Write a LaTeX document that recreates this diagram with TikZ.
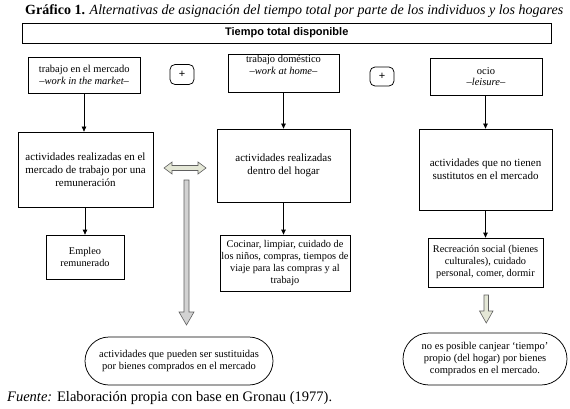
\documentclass[tikz,border=0pt]{standalone}
\usepackage{fontspec}
\setmainfont{Liberation Serif}
\newfontfamily\arialfont{Liberation Sans}
\usetikzlibrary{arrows.meta}
\begin{document}
\begin{tikzpicture}[x=1pt,y=-1pt,
  box/.style={draw=black,line width=0.75pt,align=center,inner sep=1pt,
    font=\fontsize{10.5}{11.5}\selectfont},
  bigbox/.style={box,font=\fontsize{11}{13}\selectfont},
  smallbox/.style={box,font=\fontsize{10.3}{12}\selectfont},
  pill/.style={box,font=\fontsize{10.5}{12}\selectfont},
  plusbox/.style={draw=black,line width=0.75pt,rounded corners=5pt,
    minimum width=24pt,minimum height=20pt,font=\arialfont\fontsize{11}{12}\selectfont},
  conn/.style={draw=black,line width=0.75pt,-{Triangle[length=5pt,width=4.5pt]}},
  hollowA/.style={draw=gray!75!black,line width=0.6pt,fill={rgb,255:red,228;green,231;blue,214}},
  hollowB/.style={draw=gray!75!black,line width=0.6pt,fill=gray!35}
]
\useasboundingbox (0,0) rectangle (570,409);
\fill[white] (0,0) rectangle (570,409);

% title
\node[anchor=base west,inner sep=0pt,font=\fontsize{14}{16}\selectfont] (title) at (25,15)
  {\textbf{Gráfico 1.} \textit{Alternativas de asignación del tiempo total por parte de los individuos y los hogares}};

% top box
\node[draw=black,line width=0.75pt,minimum width=528.5pt,minimum height=20pt,
  font=\arialfont\bfseries\fontsize{11}{12}\selectfont] (top) at (286.75,33) {Tiempo total disponible};

% row 1
\node[box,minimum width=111.5pt,minimum height=36pt] (a1) at (84.25,75)
  {trabajo en el mercado\\ \textit{–work in the market–}};
\node[plusbox] (p1) at (182,74.5) {+};
\node[box,minimum width=111pt,minimum height=38pt] (b1) at (283.5,73)
  {trabajo doméstico\\ \textit{–work at home–}\\[5pt]};
\node[plusbox,minimum height=19pt] (p2) at (382,76.5) {+};
\node[box,minimum width=112pt,minimum height=37pt] (c1) at (486,76.5)
  {ocio\\ \textit{–leisure–}};

% row 2
\node[bigbox,minimum width=135pt,minimum height=75pt] (a2) at (85.5,169.5)
  {actividades realizadas en el\\ mercado de trabajo por una\\ remuneración};
\node[bigbox,minimum width=133pt,minimum height=73pt] (b2) at (283.5,165.5)
  {actividades realizadas\\ dentro del hogar};
\node[bigbox,minimum width=133pt,minimum height=81pt] (c2) at (485.5,169.5)
  {actividades que no tienen\\ sustitutos en el mercado};

% row 3
\node[smallbox,minimum width=78pt,minimum height=44pt] (a3) at (85,257)
  {Empleo\\ remunerado};
\node[smallbox,minimum width=130pt,minimum height=56pt] (b3) at (285,263)
  {Cocinar, limpiar, cuidado de\\ los niños, compras, tiempos de\\ viaje para las compras y al\\ trabajo};
\node[smallbox,minimum width=115pt,minimum height=49pt] (c3) at (485.5,262.5)
  {Recreación social (bienes\\ culturales), cuidado\\ personal, comer, dormir};

% bottom pills
\node[pill,rounded corners=24pt,minimum width=188pt,minimum height=48pt] (e1) at (179,361)
  {actividades que pueden ser sustituidas\\ por bienes comprados en el mercado};
\node[pill,rounded corners=26pt,minimum width=164pt,minimum height=52pt] (e2) at (485,359)
  {no es posible canjear ‘tiempo’\\ propio (del hogar) por bienes\\ comprados en el mercado.};

% source
\node[anchor=base west,inner sep=0pt,font=\fontsize{14.5}{16}\selectfont] (src) at (7,401)
  {\textit{Fuente:} Elaboración propia con base en Gronau (1977).};

% connectors
\draw[conn] (a1.south -| a2.north) ++(-1.5,0) coordinate (a1s) -- (a1s |- a2.north);
\draw[conn] (b1.south) -- (b1.south |- b2.north);
\draw[conn] (c1.south -| 485.5,0) coordinate (c1s) -- (c1s |- c2.north);
\draw[conn] (a2.south -| a3.north) -- (a3.north);
\draw[conn] (b2.south) -- (b2.south |- b3.north);
\draw[conn] (c2.south) -- (c2.south |- c3.north);

% hollow double arrow between a2 and b2
\path[hollowA] (164,168) -- (172,162) -- (172,165.5) -- (198,165.5) -- (198,162) -- (206,168)
  -- (198,174) -- (198,170.5) -- (172,170.5) -- (172,174) -- cycle;

% hollow long down arrow to e1
\coordinate (ltop) at (186.5,180);
\path[hollowB] (184,180) -- (189,180) -- (189,312) -- (194,312) -- (186.5,325) -- (179,312)
  -- (184,312) -- cycle;

% hollow short down arrow to e2
\path[hollowA] (484,295) -- (488.5,295) -- (488.5,311) -- (493,311) -- (486.25,323) -- (479.5,311)
  -- (484,311) -- cycle;
\end{tikzpicture}
\end{document}
